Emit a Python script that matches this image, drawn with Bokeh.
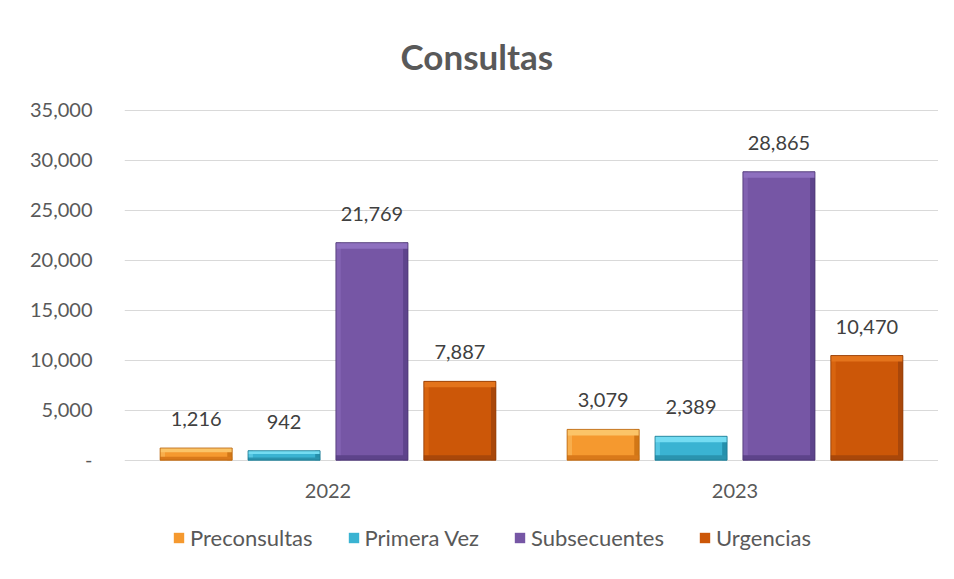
from bokeh.plotting import figure
from bokeh.models import (ColumnDataSource, Range1d, NumeralTickFormatter, LabelSet, Legend,
                          LegendItem, FixedTicker)
from bokeh.core.properties import value
from bokeh.transform import dodge
from bokeh.embed import file_html
from bokeh.resources import INLINE

years = ["2022", "2023"]
series = ["Preconsultas", "Primera Vez", "Subsecuentes", "Urgencias"]
preconsultas = [1216, 3079]
primera_vez = [942, 2389]
subsecuentes = [21769, 28865]
urgencias = [7887, 10470]
y_ticks = [0, 5000, 10000, 15000, 20000, 25000, 30000, 35000]

values = [preconsultas, primera_vez, subsecuentes, urgencias]
offsets = [-0.324, -0.108, 0.108, 0.324]
main_colors = ["#F5992F", "#3AB3D2", "#7656A5", "#CC5708"]
top_colors = ["#FBC468", "#74DCF2", "#8E70BF", "#E4741C"]
left_colors = ["#F8AE4C", "#55C6E2", "#8262B1", "#D8640F"]
right_colors = ["#D27716", "#2590AC", "#5E448C", "#A9470A"]
bot_colors = ["#D9791A", "#2A93AE", "#5D438A", "#A9470A"]
line_colors = ["#B8650F", "#1D7890", "#4A3570", "#8E3B06"]

FONT = "Lato"
GREY = "#595959"

W, H = 938, 563
TOP, BOTTOM_PAD, LEFT = 106, 4, 124
AXIS_PX = 352  # pixel height of the 0..35000 span
frame_h = H - TOP - BOTTOM_PAD
y_max = y_ticks[-1]
y_top = y_max + y_max / AXIS_PX
y_min = -y_max * (frame_h - AXIS_PX - 1) / AXIS_PX

p = figure(x_range=years, y_range=Range1d(y_min, y_top), width=W, height=H,
           output_backend="svg", toolbar_location=None,
           min_border_left=LEFT, min_border_right=0, min_border_top=TOP, min_border_bottom=BOTTOM_PAD)
p.outline_line_color = None
p.background_fill_color = "white"
p.border_fill_color = "white"

p.title.text = "Consultas"
p.title.align = "left"
p.title.offset = 276
p.title.text_font = FONT
p.title.text_font_size = "35px"
p.title.text_font_style = "bold"
p.title.text_color = GREY
p.title.standoff = 65

bw = 0.177
side = 0.012
legend_items = []
for name, vals, off, mc, tc, lfc, rc, bc, lc in zip(series, values, offsets, main_colors, top_colors,
                                                    left_colors, right_colors, bot_colors, line_colors):
    bevel = [min(600, v * 0.35) for v in vals]
    src = ColumnDataSource(dict(
        x=years, top=vals,
        btop=[v - b for v, b in zip(vals, bevel)],
        bbot=[b * 0.8 for b in bevel],
        label=[f"{v:,}" for v in vals],
    ))
    r = p.vbar(x=dodge("x", off, range=p.x_range), top="top", bottom=0, width=bw, source=src,
               fill_color=mc, line_color=None)
    p.vbar(x=dodge("x", off - bw / 2 + side / 2, range=p.x_range), top="top", bottom=0, width=side,
           source=src, fill_color=lfc, line_color=None)
    p.vbar(x=dodge("x", off + bw / 2 - side / 2, range=p.x_range), top="top", bottom=0, width=side,
           source=src, fill_color=rc, line_color=None)
    p.vbar(x=dodge("x", off, range=p.x_range), top="top", bottom="btop", width=bw, source=src,
           fill_color=tc, line_color=None)
    p.vbar(x=dodge("x", off, range=p.x_range), top="bbot", bottom=0, width=bw, source=src,
           fill_color=bc, line_color=None)
    p.vbar(x=dodge("x", off, range=p.x_range), top="top", bottom=0, width=bw, source=src,
           fill_color=None, line_color=lc, line_width=1, line_alpha=0.8)
    labels = LabelSet(x=dodge("x", off, range=p.x_range), y="top", text="label", source=src,
                      text_align="center", text_baseline="bottom", y_offset=22,
                      text_font=value(FONT), text_font_size=value("20px"), text_color="#404040")
    p.add_layout(labels)
    legend_items.append(LegendItem(label=name, renderers=[r]))

# category labels under the baseline
cat_src = ColumnDataSource(dict(x=years, y=[0] * len(years), label=years))
p.add_layout(LabelSet(x="x", y="y", text="label", source=cat_src, text_align="center",
                      text_baseline="middle", y_offset=-31,
                      text_font=value(FONT), text_font_size=value("20px"), text_color=GREY))

p.xaxis.visible = False
p.xgrid.grid_line_color = None
p.ygrid.grid_line_color = "#D9D9D9"
p.ygrid.grid_line_width = 1
p.yaxis.ticker = FixedTicker(ticks=y_ticks)
p.ygrid.ticker = FixedTicker(ticks=y_ticks)
p.yaxis.formatter = NumeralTickFormatter(format="0,0")
p.yaxis.major_label_overrides = {0: "-"}
p.yaxis.axis_line_color = None
p.yaxis.major_tick_line_color = None
p.yaxis.minor_tick_line_color = None
p.yaxis.major_label_standoff = 26
p.yaxis.major_label_text_font = FONT
p.yaxis.major_label_text_font_size = "20px"
p.yaxis.major_label_text_color = GREY

legend = Legend(items=legend_items, orientation="horizontal", location=(48, 8),
                label_text_font=FONT, label_text_font_size="22px", label_text_color=GREY,
                glyph_width=13, glyph_height=13, label_standoff=5, spacing=34,
                border_line_color=None, background_fill_alpha=0, margin=0, padding=0)
p.add_layout(legend, "center")

open("out.html", "w").write(file_html(p, INLINE))
